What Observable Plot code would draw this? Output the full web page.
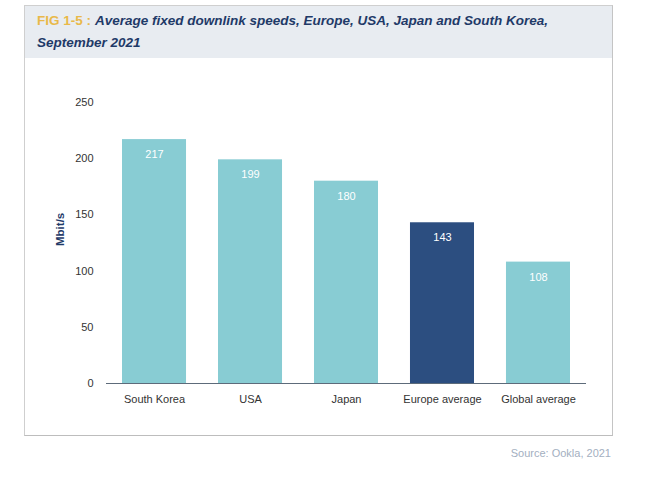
<!DOCTYPE html>
<html>
<head>
<meta charset="utf-8">
<script src="https://cdn.jsdelivr.net/npm/d3@7"></script>
<script src="https://cdn.jsdelivr.net/npm/@observablehq/plot@0.6"></script>
<style>
  html, body { margin: 0; padding: 0; background: #ffffff; }
  body { width: 658px; height: 488px; position: relative; overflow: hidden;
         font-family: "Liberation Sans", Arial, Helvetica, sans-serif; }
  #box { position: absolute; left: 24px; top: 5px; width: 587px; height: 429px;
         border: 1px solid #cfcfcf; border-right-color: #c4c4c4; border-bottom-color: #bdbdbd; box-sizing: content-box; }
  #header { position: absolute; left: 0; top: 0; right: 0; height: 52px; background: #e8ecf1; }
  #title { position: absolute; left: 12px; top: 4px; width: 570px; font-size: 13.5px; line-height: 22px;
           font-weight: bold; color: #1f3a68; white-space: nowrap; }
  #title .fig { color: #e9b949; display: inline-block; margin-right: 4px; }
  #title .main { font-style: italic; }
  #chart { position: absolute; left: 0; top: 60px; }
  #source { position: absolute; right: 47px; top: 447px; font-size: 11px; color: #a3afbf; }
</style>
</head>
<body>
<div id="box">
  <div id="header"><div id="title">
    <div><span class="fig">FIG 1-5 :</span><span class="main">Average fixed downlink speeds, Europe, USA, Japan and South Korea,</span></div>
    <div><span class="main">September 2021</span></div>
  </div></div>
</div>
<div id="chart"></div>
<div id="source">Source: Ookla, 2021</div>
<script>
const categories = ["South Korea", "USA", "Japan", "Europe average", "Global average"];
const values = [217, 199, 180, 143, 108];
const highlight = ["Europe average"];
const yTicks = [0, 50, 100, 150, 200, 250];
const yLabel = "Mbit/s";

const data = categories.map((c, i) => ({category: c, value: values[i], hl: highlight.includes(c)}));

const chart = Plot.plot({
  width: 640,
  height: 363,
  marginTop: 42,
  marginBottom: 40,
  marginLeft: 106,
  marginRight: 54,
  style: {fontFamily: "'Liberation Sans', Arial, Helvetica, sans-serif", fontSize: "11px", color: "#333", background: "transparent"},
  x: {domain: categories, paddingInner: 0.333, paddingOuter: 0.1667, round: false, label: null},
  y: {domain: [0, 250], ticks: yTicks, label: null},
  marks: [
    Plot.axisX({tickSize: 0, tickPadding: 12, fontSize: 11, fill: "#333", label: null}),
    Plot.axisY({ticks: yTicks, tickSize: 0, tickPadding: 13, fontSize: 11, fill: "#333", label: null}),
    Plot.barY(data, {x: "category", y: "value", fill: d => d.hl ? "#2c4e80" : "#88ccd3"}),
    Plot.ruleY([0], {stroke: "#5d6b7a", strokeWidth: 1}),
    Plot.text(data, {x: "category", y: "value", text: d => String(d.value), dy: 15, fill: "white", fontSize: 11}),
    Plot.text([yLabel], {frameAnchor: "left", rotate: -90, dx: -46, dy: 3, fontWeight: "bold", fill: "#1f3a68", fontSize: 11.5})
  ]
});
document.getElementById("chart").appendChild(chart);
</script>
</body>
</html>
